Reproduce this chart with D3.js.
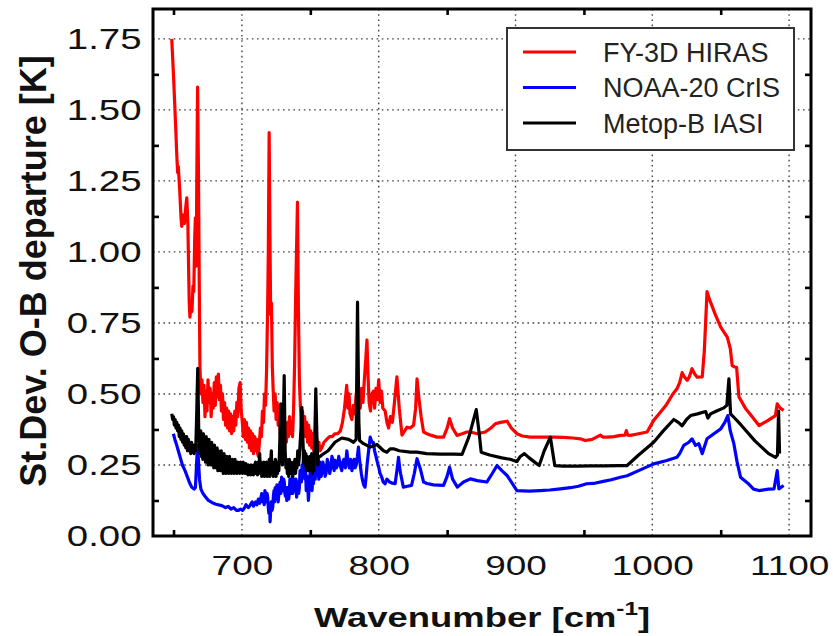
<!DOCTYPE html>
<html>
<head>
<meta charset="utf-8">
<script src="https://cdn.jsdelivr.net/npm/d3@7"></script>
<style>
  body { margin: 0; background: #fff; }
  svg { display: block; font-family: "Liberation Sans", Arial, sans-serif; }
</style>
</head>
<body>
<div id="chart"></div>
<script>
// St.Dev. of O-B departures per channel, three hyperspectral sounders

// [wavenumber, st.dev]
const hiras = [
  [648.7,1.75],[650,1.62],[651.5,1.45],[652.3,1.35],[653,1.28],[653.5,1.30],[654.5,1.22],[655.5,1.12],[656,1.09],
  [657,1.13],[658,1.10],[659,1.16],[659.7,1.19],[660.5,1.10],[661,0.95],[661.5,0.82],[662,0.77],[662.8,0.82],
  [663.5,0.79],[664.2,0.88],[664.8,0.86],[665.5,1.05],[666,1.12],[666.6,0.95],[667,1.25],[667.6,1.58],[668.2,1.30],
  [668.8,0.90],[669.3,0.60],[670,0.50],[670.8,0.55],[671.5,0.47],[672.3,0.53],[673,0.42],[673.8,0.51],[674.5,0.44],
  [675.2,0.55],[676,0.47],[676.8,0.52],[677.5,0.42],[678.3,0.50],[679,0.45],[679.8,0.54],[680.5,0.46],[681.3,0.56],
  [682,0.49],[682.8,0.57],[683.5,0.48],[684.3,0.53],[685,0.44],[685.8,0.50],[686.5,0.41],[687.3,0.47],[688,0.39],
  [688.8,0.45],[689.5,0.38],[690.3,0.44],[691,0.37],[691.8,0.43],[692.5,0.36],[693.3,0.42],[694,0.37],[694.8,0.44],
  [695.5,0.39],[696.3,0.47],[697,0.42],[697.8,0.52],[698.7,0.54],[699.5,0.44],[700.3,0.40],[701,0.35],[701.8,0.41],
  [702.5,0.34],[703.3,0.40],[704,0.33],[704.8,0.38],[705.5,0.31],[706.3,0.37],[707,0.30],[707.8,0.36],[708.5,0.29],
  [709.3,0.35],[710,0.30],[710.8,0.34],[711.5,0.29],[712,0.28],[712.8,0.33],[713.5,0.38],[714.3,0.35],[715,0.44],
  [715.8,0.40],[716.5,0.50],[717.3,0.46],[718,0.58],[718.8,0.80],[719.3,1.00],[719.9,1.42],[720.5,1.05],[721,0.78],
  [721.6,0.82],[722.2,0.60],[722.8,0.52],[723.5,0.44],[724.3,0.50],[725,0.41],[725.8,0.47],[726.5,0.39],[727.3,0.44],
  [728,0.36],[728.8,0.42],[729.5,0.35],[730.3,0.41],[731,0.34],[731.8,0.38],[732.5,0.33],[733.3,0.40],[734,0.35],
  [734.8,0.42],[735.5,0.36],[736.3,0.40],[737,0.35],[737.8,0.45],[738.5,0.60],[739.3,0.85],[740.6,1.175],[741.3,0.80],
  [742,0.55],[742.8,0.45],[743.5,0.39],[744.3,0.44],[745,0.37],[745.8,0.42],[746.5,0.35],[747.3,0.40],[748,0.33],
  [748.8,0.39],[749.5,0.32],[750.3,0.37],[751,0.31],[751.8,0.36],[752.5,0.30],[753.3,0.35],[754,0.29],[754.8,0.34],
  [755.5,0.30],[756.3,0.33],[757,0.30],[758.4,0.31],[760,0.33],[762,0.34],[764,0.35],[766,0.35],[768,0.36],
  [770,0.36],[772,0.37],[773.5,0.40],[775,0.45],[776.6,0.53],[777.5,0.45],[778.3,0.50],[779,0.43],[780.4,0.41],
  [781.5,0.46],[782.5,0.43],[783.5,0.50],[784.5,0.44],[785.5,0.49],[786.5,0.45],[787.5,0.52],[788.5,0.47],[789.5,0.55],
  [790.5,0.62],[791.4,0.69],[792.3,0.55],[793,0.47],[794,0.44],[795,0.50],[796.2,0.51],[797,0.45],[798,0.52],
  [799,0.48],[800,0.55],[801,0.47],[802,0.51],[803,0.45],[804.7,0.44],[806,0.40],[807.2,0.38],[808.5,0.42],
  [810,0.40],[811.5,0.47],[813.3,0.56],[815,0.45],[817,0.355],[819,0.37],[820.6,0.383],[823,0.38],[825.5,0.39],
  [827,0.45],[828,0.553],[829.5,0.48],[831,0.42],[832.8,0.366],[835.3,0.36],[838,0.355],[842.6,0.348],[847.4,0.348],
  [850,0.38],[851.8,0.413],[854,0.38],[857.2,0.354],[861,0.36],[864.5,0.366],[867,0.366],[872,0.36],[877.9,0.366],
  [882,0.38],[885.2,0.395],[889,0.40],[893.8,0.404],[897,0.38],[901,0.36],[905,0.352],[910.8,0.348],[918,0.348],
  [927.9,0.348],[935,0.347],[942,0.345],[947.4,0.342],[951,0.336],[956,0.34],[962,0.355],[964,0.348],[967,0.348],
  [972,0.35],[976.7,0.354],[980,0.355],[981,0.371],[982,0.355],[984,0.354],[990,0.36],[996.2,0.366],[1001,0.407],
  [1005,0.43],[1010,0.46],[1015,0.50],[1018,0.518],[1020,0.54],[1021.8,0.575],[1023.5,0.56],[1025.5,0.548],[1027,0.56],
  [1029,0.589],[1031,0.57],[1032.8,0.559],[1036.5,0.56],[1038,0.65],[1040,0.86],[1042,0.83],[1046,0.78],[1050,0.735],
  [1054.8,0.70],[1057,0.66],[1058.4,0.60],[1060,0.595],[1061.6,0.594],[1063.3,0.49],[1068,0.45],[1073,0.42],[1078,0.389],
  [1084,0.405],[1090,0.424],[1091.3,0.465],[1093.5,0.45],[1096,0.442]
];

const cris = [
  [649.9,0.36],[651,0.34],[652,0.325],[653.5,0.30],[655,0.275],[656.5,0.25],[658.4,0.23],[660,0.21],[661.5,0.19],
  [663.3,0.172],[665,0.165],[666,0.17],[666.8,0.25],[667.6,0.32],[668.3,0.26],[669,0.20],[670,0.165],[671.5,0.15],
  [673,0.14],[675.5,0.125],[678,0.118],[681,0.112],[685.3,0.107],[688,0.10],[690,0.104],[692,0.095],[694,0.10],
  [696,0.09],[697.5,0.09],[699,0.095],[700.5,0.09],[702,0.10],[703,0.11],[704.8,0.10],[706,0.108],[707.5,0.12],
  [708.5,0.105],[710,0.12],[711,0.11],[712,0.13],[713,0.115],[714.5,0.149],[715.2,0.12],[715.7,0.14],[716.3,0.11],
  [716.8,0.16],[717.3,0.13],[717.8,0.12],[718.3,0.15],[718.8,0.14],[719.3,0.10],[719.7,0.08],[720.2,0.11],[720.6,0.05],
  [721.1,0.10],[721.5,0.12],[722,0.09],[722.5,0.10],[723,0.14],[723.5,0.16],[723.9,0.12],[724.3,0.17],[724.8,0.13],
  [725.2,0.14],[725.6,0.18],[726,0.16],[726.5,0.12],[727,0.15],[727.5,0.18],[728,0.19],[728.5,0.15],[729,0.207],
  [729.5,0.17],[730,0.16],[730.5,0.20],[731,0.19],[731.4,0.15],[731.8,0.14],[732.3,0.17],[732.8,0.125],[733.3,0.15],
  [733.7,0.17],[734.2,0.13],[734.6,0.15],[735.1,0.20],[735.5,0.19],[736,0.15],[736.5,0.184],[736.9,0.21],[737.3,0.15],
  [737.8,0.18],[738.2,0.20],[738.6,0.16],[739,0.17],[739.5,0.20],[740,0.137],[740.5,0.17],[741,0.19],[741.5,0.15],
  [742,0.17],[742.5,0.23],[743,0.22],[743.5,0.19],[744,0.25],[744.5,0.21],[745,0.29],[745.5,0.23],[746,0.20],
  [746.5,0.24],[747,0.16],[747.4,0.19],[747.8,0.21],[748.2,0.17],[748.6,0.125],[749,0.16],[749.5,0.18],[750,0.24],
  [750.4,0.22],[750.8,0.18],[751.3,0.16],[751.8,0.21],[752.3,0.184],[752.8,0.22],[753.2,0.24],[753.6,0.20],[754,0.27],
  [754.4,0.23],[754.8,0.29],[755.2,0.25],[755.7,0.24],[756.2,0.20],[756.6,0.21],[757,0.26],[757.5,0.25],[758,0.21],
  [758.4,0.23],[759.2,0.26],[760,0.24],[760.8,0.21],[761.5,0.22],[762.4,0.27],[763.3,0.254],[764.2,0.22],[765,0.24],
  [765.8,0.28],[766.5,0.27],[767.4,0.23],[768.2,0.266],[769.1,0.24],[770,0.25],[770.8,0.28],[771.5,0.26],[772.3,0.24],
  [773,0.23],[773.8,0.26],[774.5,0.27],[775.6,0.24],[776.7,0.30],[777.6,0.26],[778.5,0.24],[779.5,0.27],[780.4,0.23],
  [781.2,0.25],[782,0.27],[782.8,0.24],[783.5,0.25],[784.4,0.28],[785.2,0.313],[785.9,0.27],[786.5,0.25],[787.3,0.22],
  [788,0.20],[789,0.18],[790,0.172],[790.8,0.21],[791.5,0.25],[792.6,0.30],[793.8,0.348],[795,0.33],[796,0.33],
  [797,0.30],[798,0.28],[799,0.26],[800,0.242],[801,0.22],[802,0.21],[803.3,0.19],[804.7,0.184],[806,0.20],
  [808,0.19],[810,0.186],[812,0.184],[813.3,0.23],[814.5,0.277],[815.3,0.24],[816,0.22],[818,0.172],[821,0.175],
  [824,0.178],[826,0.22],[828,0.272],[830.4,0.237],[832.8,0.19],[835.3,0.185],[840,0.18],[847.4,0.178],[850,0.21],
  [851.8,0.242],[854,0.20],[857.5,0.172],[862,0.19],[867,0.201],[872,0.195],[879,0.19],[883,0.22],[886.5,0.248],
  [890,0.23],[893.8,0.213],[897,0.19],[901,0.16],[910,0.158],[918,0.16],[925,0.162],[932.8,0.166],[940,0.17],
  [946,0.175],[952,0.184],[957,0.185],[965,0.193],[970,0.198],[976.7,0.207],[981.6,0.212],[990,0.23],[1001,0.254],
  [1010,0.265],[1018,0.277],[1020,0.29],[1023,0.319],[1026.7,0.33],[1029,0.342],[1031.6,0.319],[1034,0.325],
  [1036.5,0.29],[1040,0.342],[1045,0.36],[1050,0.377],[1053,0.40],[1055.2,0.424],[1057,0.37],[1059.6,0.325],
  [1062,0.26],[1064.5,0.207],[1070,0.185],[1074,0.165],[1078,0.16],[1085,0.165],[1089,0.166],[1091.3,0.23],
  [1092.5,0.166],[1096,0.178]
];

const iasi = [
  [648.7,0.43],[649.4,0.41],[650,0.42],[650.6,0.39],[651.2,0.41],[651.8,0.38],[652.4,0.40],[653,0.37],[653.6,0.39],
  [654.2,0.35],[654.8,0.38],[655.4,0.34],[656,0.37],[656.6,0.33],[657.2,0.36],[657.8,0.32],[658.4,0.35],[659,0.31],
  [659.6,0.35],[660.2,0.30],[660.8,0.34],[661.4,0.30],[662,0.33],[662.6,0.29],[663.2,0.33],[663.8,0.30],[664.4,0.32],
  [665,0.29],[665.6,0.32],[666.2,0.30],[666.8,0.40],[667.7,0.59],[668.5,0.35],[669.4,0.29],[669.9,0.37],[670.4,0.28],
  [670.9,0.35],[671.4,0.27],[671.9,0.36],[672.4,0.29],[672.9,0.34],[673.4,0.26],[673.9,0.35],[674.4,0.27],[674.9,0.33],
  [675.4,0.25],[675.9,0.34],[676.4,0.27],[676.9,0.32],[677.4,0.25],[677.9,0.33],[678.4,0.26],[678.9,0.31],[679.4,0.24],
  [679.9,0.32],[680.4,0.25],[680.9,0.30],[681.4,0.24],[681.9,0.31],[682.4,0.23],[682.9,0.30],[683.4,0.25],[683.9,0.29],
  [684.4,0.23],[684.9,0.30],[685.4,0.24],[685.9,0.28],[686.4,0.22],[686.9,0.29],[687.4,0.24],[687.9,0.28],[688.4,0.22],
  [688.9,0.28],[689.4,0.23],[689.9,0.27],[690.4,0.22],[690.9,0.28],[691.4,0.23],[691.9,0.27],[692.4,0.22],[692.9,0.27],
  [693.4,0.23],[693.9,0.26],[694.4,0.22],[694.9,0.27],[695.4,0.23],[695.9,0.26],[696.4,0.22],[696.9,0.26],[697.4,0.23],
  [697.9,0.255],[698.4,0.22],[698.9,0.26],[699.4,0.225],[699.9,0.255],[700.4,0.22],[700.9,0.26],[701.4,0.225],[701.9,0.25],
  [702.4,0.22],[702.9,0.255],[703.4,0.225],[703.9,0.25],[704.4,0.215],[704.9,0.25],[705.4,0.22],[705.9,0.245],[706.4,0.215],
  [706.9,0.25],[707.4,0.22],[707.9,0.245],[708.4,0.215],[708.9,0.25],[709.4,0.22],[709.9,0.26],[710.4,0.22],[710.9,0.25],
  [711.4,0.215],[711.9,0.26],[712.4,0.23],[713,0.29],[713.5,0.22],[714,0.26],[714.5,0.21],[715,0.25],[715.5,0.22],
  [716,0.26],[716.5,0.21],[717,0.25],[717.5,0.22],[718,0.26],[718.5,0.21],[719,0.25],[719.5,0.22],[720,0.27],
  [720.5,0.21],[721,0.26],[721.5,0.30],[722,0.22],[722.5,0.26],[723,0.21],[723.5,0.25],[724,0.22],[724.5,0.27],
  [725,0.21],[725.5,0.26],[726,0.22],[726.5,0.25],[727,0.23],[727.5,0.30],[728.4,0.465],[729,0.35],[729.6,0.25],
  [730.3,0.40],[730.9,0.565],[731.6,0.30],[732.2,0.24],[732.7,0.27],[733.2,0.22],[733.7,0.26],[734.2,0.21],[734.7,0.27],
  [735.2,0.23],[735.7,0.26],[736.2,0.22],[736.7,0.25],[737.2,0.21],[737.7,0.26],[738.2,0.23],[738.7,0.27],[739.2,0.22],
  [739.7,0.26],[740.2,0.24],[740.8,0.30],[741.4,0.25],[742,0.28],[742.6,0.33],[743.2,0.38],[743.8,0.453],[744.5,0.35],
  [745.2,0.26],[745.7,0.30],[746.2,0.25],[746.7,0.29],[747.2,0.23],[747.7,0.28],[748.2,0.24],[748.7,0.27],[749.2,0.23],
  [749.9,0.28],[750.5,0.24],[751,0.29],[751.5,0.22],[752,0.26],[752.5,0.23],[753,0.30],[753.5,0.40],[754,0.518],
  [754.8,0.35],[755.5,0.25],[756,0.277],[757.2,0.28],[758.4,0.285],[763,0.30],[768,0.33],[773,0.345],[778,0.34],
  [781.6,0.33],[783.5,0.34],[784.5,0.823],[785.5,0.40],[786,0.336],[788.9,0.325],[793.8,0.313],[798.7,0.322],
  [803.5,0.30],[806,0.295],[808.4,0.307],[810.8,0.307],[815,0.30],[823,0.295],[828,0.295],[835,0.29],[845,0.288],
  [855,0.288],[860.9,0.287],[866,0.35],[871.3,0.445],[873.5,0.36],[874.9,0.295],[881,0.285],[890,0.275],[896,0.27],
  [901,0.262],[903.5,0.28],[906.5,0.29],[910,0.275],[914,0.26],[917.3,0.248],[921,0.30],[925.5,0.348],[927,0.30],
  [928.7,0.248],[935,0.246],[945,0.246],[955,0.247],[965,0.247],[975,0.248],[981.6,0.248],[990,0.285],[1001,0.33],
  [1008,0.37],[1015.7,0.41],[1019,0.40],[1021.8,0.388],[1025,0.41],[1028,0.424],[1033,0.43],[1039,0.438],[1040.6,0.415],
  [1042.6,0.43],[1047,0.44],[1052.3,0.451],[1054.5,0.46],[1056,0.553],[1057.2,0.43],[1058.4,0.424],[1059.6,0.418],
  [1065,0.39],[1075,0.335],[1085,0.29],[1090,0.277],[1091.5,0.285],[1092.3,0.44],[1093,0.29]
];

const seriesNames = ["FY-3D HIRAS", "NOAA-20 CrIS", "Metop-B IASI"];
const seriesColors = ["#ff0000", "#0000ff", "#000000"];

const xTicks = [700, 800, 900, 1000, 1100];
const xMinor = [650, 750, 850, 950, 1050];
const yTicks = [0, 0.25, 0.5, 0.75, 1.0, 1.25, 1.5, 1.75];
const yMinor = [0.125, 0.375, 0.625, 0.875, 1.125, 1.375, 1.625];

const W = 833, H = 636;
const margin = { top: 9, right: 22, bottom: 100, left: 153 };
const width = W - margin.left - margin.right;
const height = H - margin.top - margin.bottom;

const svg = d3.select("#chart")
  .append("svg")
  .attr("width", W)
  .attr("height", H);

const g = svg.append("g")
  .attr("transform", `translate(${margin.left},${margin.top})`);

const x = d3.scaleLinear().domain([635, 1116]).range([0, width]);
const y = d3.scaleLinear().domain([0, 1.855]).range([height, 0]);

// dotted grid
const grid = g.append("g").attr("class", "grid");
grid.selectAll("line.gx")
  .data(xTicks)
  .enter().append("line")
  .attr("x1", d => x(d)).attr("x2", d => x(d))
  .attr("y1", 0).attr("y2", height);
grid.selectAll("line.gy")
  .data(yTicks.filter(d => d > 0))
  .enter().append("line")
  .attr("x1", 0).attr("x2", width)
  .attr("y1", d => y(d)).attr("y2", d => y(d));
grid.selectAll("line")
  .attr("stroke", "#444")
  .attr("stroke-width", 1.4)
  .attr("stroke-dasharray", "1.6,3.6");

// series
const line = d3.line()
  .x(d => x(d[0]))
  .y(d => y(d[1]));

g.append("clipPath").attr("id", "clip")
  .append("rect").attr("width", width).attr("height", height);

const lines = g.append("g").attr("clip-path", "url(#clip)");
[hiras, cris, iasi].forEach((s, i) => {
  lines.append("path")
    .datum(s)
    .attr("fill", "none")
    .attr("stroke", seriesColors[i])
    .attr("stroke-width", 3.2)
    .attr("stroke-linejoin", "round")
    .attr("d", line);
});

// axes labels (major) and minor inward ticks
const xAxis = g.append("g")
  .attr("transform", `translate(0,${height})`)
  .call(d3.axisBottom(x).tickValues(xTicks).tickSize(0).tickPadding(19).tickFormat(d3.format("d")));
xAxis.select(".domain").remove();
xAxis.selectAll("text")
  .attr("font-size", "28px")
  .attr("fill", "#111")
  .attr("transform", "scale(1.32,1)");

const yAxis = g.append("g")
  .call(d3.axisLeft(y).tickValues(yTicks).tickSize(0).tickPadding(9).tickFormat(d3.format(".2f")));
yAxis.select(".domain").remove();
yAxis.selectAll("text")
  .attr("font-size", "30px")
  .attr("fill", "#111")
  .attr("transform", "scale(1.28,1)");

const minorAxes = [
  [d3.axisBottom(x).tickValues(xMinor), `translate(0,${height})`],
  [d3.axisTop(x).tickValues(xMinor), "translate(0,0)"],
  [d3.axisLeft(y).tickValues(yMinor), "translate(0,0)"],
  [d3.axisRight(y).tickValues(yMinor), `translate(${width},0)`]
];
minorAxes.forEach(([ax, tr]) => {
  const m = g.append("g")
    .attr("transform", tr)
    .call(ax.tickSize(-6).tickFormat(""));
  m.select(".domain").remove();
  m.selectAll("line").attr("stroke", "#000").attr("stroke-width", 2.6);
});

// frame
g.append("rect")
  .attr("width", width)
  .attr("height", height)
  .attr("fill", "none")
  .attr("stroke", "#000")
  .attr("stroke-width", 3);

// axis titles
const xTitle = svg.append("text")
  .attr("transform", `translate(${margin.left + width / 2},627) scale(1.35,1)`)
  .attr("text-anchor", "middle")
  .attr("font-weight", "bold")
  .attr("font-size", "27px")
  .attr("fill", "#111");
xTitle.append("tspan").text("Wavenumber [cm");
xTitle.append("tspan").attr("font-size", "18px").attr("dy", -12).text("-1");
xTitle.append("tspan").attr("dy", 12).text("]");

svg.append("text")
  .attr("transform", "translate(46,271) rotate(-90)")
  .attr("text-anchor", "middle")
  .attr("font-weight", "bold")
  .attr("font-size", "36px")
  .attr("fill", "#111")
  .text("St.Dev. O-B departure [K]");

// legend
const legend = svg.append("g");
legend.append("rect")
  .attr("x", 507).attr("y", 28)
  .attr("width", 287).attr("height", 122)
  .attr("fill", "#fff")
  .attr("stroke", "#333")
  .attr("stroke-width", 2);

const rowY = d3.scalePoint().domain(seriesNames).range([52, 123]);
seriesNames.forEach((name, i) => {
  legend.append("line")
    .attr("x1", 523).attr("x2", 576)
    .attr("y1", rowY(name)).attr("y2", rowY(name))
    .attr("stroke", seriesColors[i])
    .attr("stroke-width", 3);
  legend.append("text")
    .attr("x", 603)
    .attr("y", rowY(name))
    .attr("dy", "0.36em")
    .attr("font-size", "27px")
    .attr("fill", "#222")
    .text(name);
});
</script>
</body>
</html>
